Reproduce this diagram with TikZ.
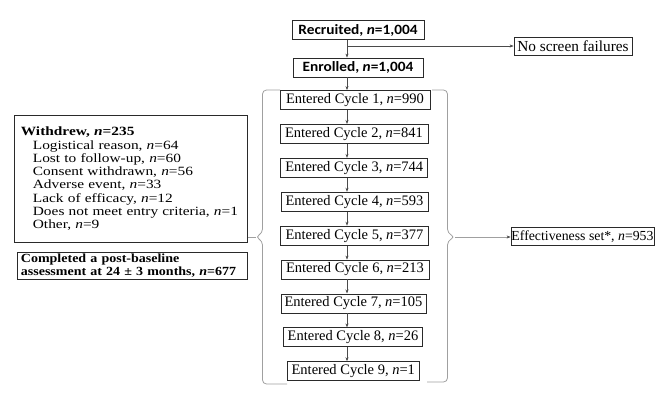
\documentclass[tikz,border=0pt]{standalone}
\usepackage{fontspec}
\setmainfont{Liberation Serif}
\newfontfamily\calib[FakeStretch=1.08]{Carlito}
\newfontfamily\wide[FakeStretch=1.22]{Liberation Serif}
\newfontfamily\wideb[FakeStretch=1.13]{Liberation Serif}
\usetikzlibrary{arrows.meta}
\definecolor{boxc}{HTML}{2A2A2A}
\definecolor{arrc}{HTML}{4A4A4A}
\definecolor{brc}{HTML}{A0A0A0}
\begin{document}
\begin{tikzpicture}[x=1pt,y=-1pt,
  box/.style={draw=boxc, line width=0.8pt, inner sep=0pt, align=center, font=\fontsize{14.5}{16}\selectfont},
  sansbox/.style={box, font=\calib\bfseries\fontsize{14.2}{15}\selectfont},
  listbox/.style={draw=boxc, line width=0.8pt, inner ysep=0pt, align=left, anchor=north west},
  arr/.style={draw=arrc, line width=0.6pt, -{Stealth[length=4pt,width=3pt]}},
  brace/.style={draw=brc, line width=0.8pt, rounded corners=4pt},
  grayarr/.style={draw=brc, line width=0.8pt, -{Stealth[length=4pt,width=3pt,color=arrc]}}]
\useasboundingbox (0,0) rectangle (672,394);

\node[sansbox, minimum width=132pt, minimum height=18.5pt] (rec) at (358,30) {Recruited, \textit{n}=1,004};
\node[sansbox, minimum width=130pt, minimum height=19pt] (enr) at (358,67.5) {Enrolled, \textit{n}=1,004};
\node[box, minimum width=118pt, minimum height=18pt, font=\fontsize{15.3}{16}\selectfont] (nsf) at (573,46) {No screen failures};

\coordinate (ax) at (347,0);
\draw[arr] (rec.south -| ax) -- (enr.north -| ax);
\draw[arr] (ax |- nsf.west) -- (nsf.west);

\foreach \i/\w/\cx/\n in {1/150/355/990, 2/148/354/841, 3/147/354.3/744, 4/147/354.5/593, 5/148/354.5/377, 6/148/355/213, 7/145/353.5/105, 8/139.4/353/26, 9/131.3/353.3/1}{
  \node[box, minimum width=\w pt, minimum height=19pt] (c\i) at (\cx,{100+(\i-1)*33.9}) {Entered Cycle \i, \textit{n}=\n};
}
\draw[arr] (enr.south -| ax) -- (c1.north -| ax);
\foreach \i [evaluate=\i as \j using int(\i+1)] in {1,...,8}{
  \draw[arr] (c\i.south -| ax) -- (c\j.north -| ax);
}

\node[listbox, inner xsep=6.5pt, minimum width=233pt, minimum height=127pt, text width=220pt,
  font=\wide\fontsize{12.6}{13.3}\selectfont] (wd) at (14,115) {%
  \textbf{Withdrew, \textit{n}=235}\\
  \hspace*{12pt}Logistical reason, \textit{n}=64\\
  \hspace*{12pt}Lost to follow-up, \textit{n}=60\\
  \hspace*{12pt}Consent withdrawn, \textit{n}=56\\
  \hspace*{12pt}Adverse event, \textit{n}=33\\
  \hspace*{12pt}Lack of efficacy, \textit{n}=12\\
  \hspace*{12pt}Does not meet entry criteria, \textit{n}=1\\
  \hspace*{12pt}Other, \textit{n}=9};
\node[listbox, inner xsep=3.5pt, minimum width=230pt, minimum height=27.5pt, text width=223pt,
  font=\wideb\bfseries\fontsize{12.4}{13}\selectfont] (cmp) at (17,251.5) {%
  Completed a post-baseline\\assessment at 24 ± 3 months, \textit{n}=677};

\node[box, minimum width=143pt, minimum height=18pt, font=\fontsize{13.8}{15}\selectfont] (eff) at (582.5,236.7) {Effectiveness set*, \textit{n}=953};

% braces
\coordinate (lt) at (255.5,237);
\coordinate (rt) at (455,237);
\draw[brace] (280,90) -- (262.5,90) -- (262.5,233) -- (lt) -- (262.5,241) -- (262.5,384) -- (287,384);
\draw[brace] (432,90) -- (447.5,90) -- (447.5,233) -- (rt) -- (447.5,241) -- (447.5,382) -- (427,382);
\draw[draw=brc, line width=0.8pt] (wd.east |- lt) -- (lt);
\draw[grayarr] (rt) -- (eff.west |- rt);
\end{tikzpicture}
\end{document}
